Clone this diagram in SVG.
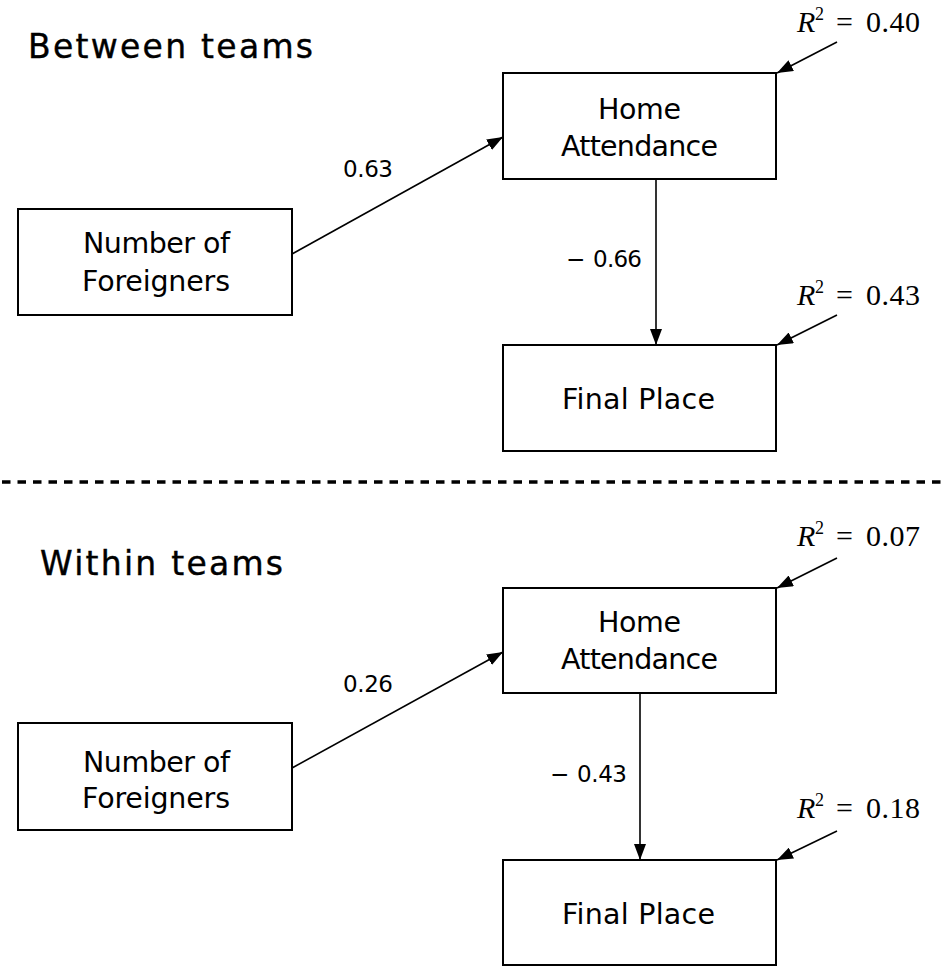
<svg xmlns="http://www.w3.org/2000/svg" width="944" height="966" viewBox="0 0 944 966">
<style>
.box{fill:#fff;stroke:#000;stroke-width:2}
.lbl{font-family:"DejaVu Sans","Liberation Sans",sans-serif;font-size:28.5px;fill:#000}
.ttl{font-family:"DejaVu Sans","Liberation Sans",sans-serif;font-size:33px;fill:#000;stroke:#000;stroke-width:0.4}
.num{font-family:"DejaVu Sans","Liberation Sans",sans-serif;font-size:23px;fill:#000}
.math{font-family:"Liberation Serif","Times New Roman",serif;font-size:30px;fill:#000}
.sup{font-family:"Liberation Serif","Times New Roman",serif;font-size:18px;fill:#000}
.edge{stroke:#000;stroke-width:1.6;fill:none;marker-end:url(#ah)}
</style>
<defs>
<marker id="ah" viewBox="0 0 16 12" refX="16" refY="6" markerWidth="16" markerHeight="12" markerUnits="userSpaceOnUse" orient="auto">
<path d="M0,0 L16,6 L0,12 Z" fill="#000"/>
</marker>
</defs>
<rect width="944" height="966" fill="#fff"/>

<text class="ttl" x="28" y="58" textLength="285" lengthAdjust="spacing">Between teams</text>
<text class="ttl" x="40" y="575" textLength="243" lengthAdjust="spacing">Within teams</text>

<line x1="2" y1="482" x2="944" y2="482" stroke="#000" stroke-width="3.5" stroke-dasharray="8.5 7"/>

<g id="connectors">
<line class="edge" x1="292" y1="254" x2="503" y2="137"/>
<line class="edge" x1="656" y1="179" x2="656" y2="345"/>
<line class="edge" x1="837" y1="42" x2="777" y2="73"/>
<line class="edge" x1="837" y1="315" x2="777" y2="345"/>
<line class="edge" x1="292" y1="768" x2="503" y2="652"/>
<line class="edge" x1="640" y1="693" x2="640" y2="860"/>
<line class="edge" x1="837" y1="558" x2="777" y2="588"/>
<line class="edge" x1="837" y1="831" x2="777" y2="860"/>
<text class="num" x="343" y="177" textLength="50" lengthAdjust="spacing">0.63</text>
<text class="num" x="566" y="267">−</text>
<text class="num" x="593" y="267" textLength="49" lengthAdjust="spacing">0.66</text>
<text class="num" x="343" y="692" textLength="50" lengthAdjust="spacing">0.26</text>
<text class="num" x="550" y="782">−</text>
<text class="num" x="577" y="782" textLength="50" lengthAdjust="spacing">0.43</text>
</g>

<g id="r2-top-home">
<text class="math" x="797" y="32" font-style="italic">R</text>
<text class="sup" x="815" y="20">2</text>
<text class="math" x="836" y="32">=</text>
<text class="math" x="866" y="32" textLength="54" lengthAdjust="spacing">0.40</text>
</g>
<g id="r2-top-final">
<text class="math" x="797" y="305" font-style="italic">R</text>
<text class="sup" x="815" y="293">2</text>
<text class="math" x="836" y="305">=</text>
<text class="math" x="866" y="305" textLength="54" lengthAdjust="spacing">0.43</text>
</g>
<g id="r2-bot-home">
<text class="math" x="797" y="546" font-style="italic">R</text>
<text class="sup" x="815" y="534">2</text>
<text class="math" x="836" y="546">=</text>
<text class="math" x="866" y="546" textLength="54" lengthAdjust="spacing">0.07</text>
</g>
<g id="r2-bot-final">
<text class="math" x="797" y="818" font-style="italic">R</text>
<text class="sup" x="815" y="806">2</text>
<text class="math" x="836" y="818">=</text>
<text class="math" x="866" y="818" textLength="54" lengthAdjust="spacing">0.18</text>
</g>

<g id="top-foreigners">
<rect class="box" x="18" y="209" width="274" height="106"/>
<text class="lbl" x="83" y="253" textLength="147" lengthAdjust="spacing">Number of</text>
<text class="lbl" x="82" y="291" textLength="148" lengthAdjust="spacing">Foreigners</text>
</g>
<g id="top-home">
<rect class="box" x="503" y="73" width="273" height="106"/>
<text class="lbl" x="598" y="119" textLength="83" lengthAdjust="spacing">Home</text>
<text class="lbl" x="561" y="156" textLength="157" lengthAdjust="spacing">Attendance</text>
</g>
<g id="top-final">
<rect class="box" x="503" y="345" width="273" height="106"/>
<text class="lbl" x="562" y="409" textLength="153" lengthAdjust="spacing">Final Place</text>
</g>

<g id="bot-foreigners">
<rect class="box" x="18" y="723" width="274" height="107"/>
<text class="lbl" x="83" y="772" textLength="147" lengthAdjust="spacing">Number of</text>
<text class="lbl" x="82" y="808" textLength="148" lengthAdjust="spacing">Foreigners</text>
</g>
<g id="bot-home">
<rect class="box" x="503" y="588" width="273" height="105"/>
<text class="lbl" x="598" y="632" textLength="83" lengthAdjust="spacing">Home</text>
<text class="lbl" x="561" y="669" textLength="157" lengthAdjust="spacing">Attendance</text>
</g>
<g id="bot-final">
<rect class="box" x="503" y="860" width="273" height="105"/>
<text class="lbl" x="562" y="924" textLength="153" lengthAdjust="spacing">Final Place</text>
</g>
</svg>
